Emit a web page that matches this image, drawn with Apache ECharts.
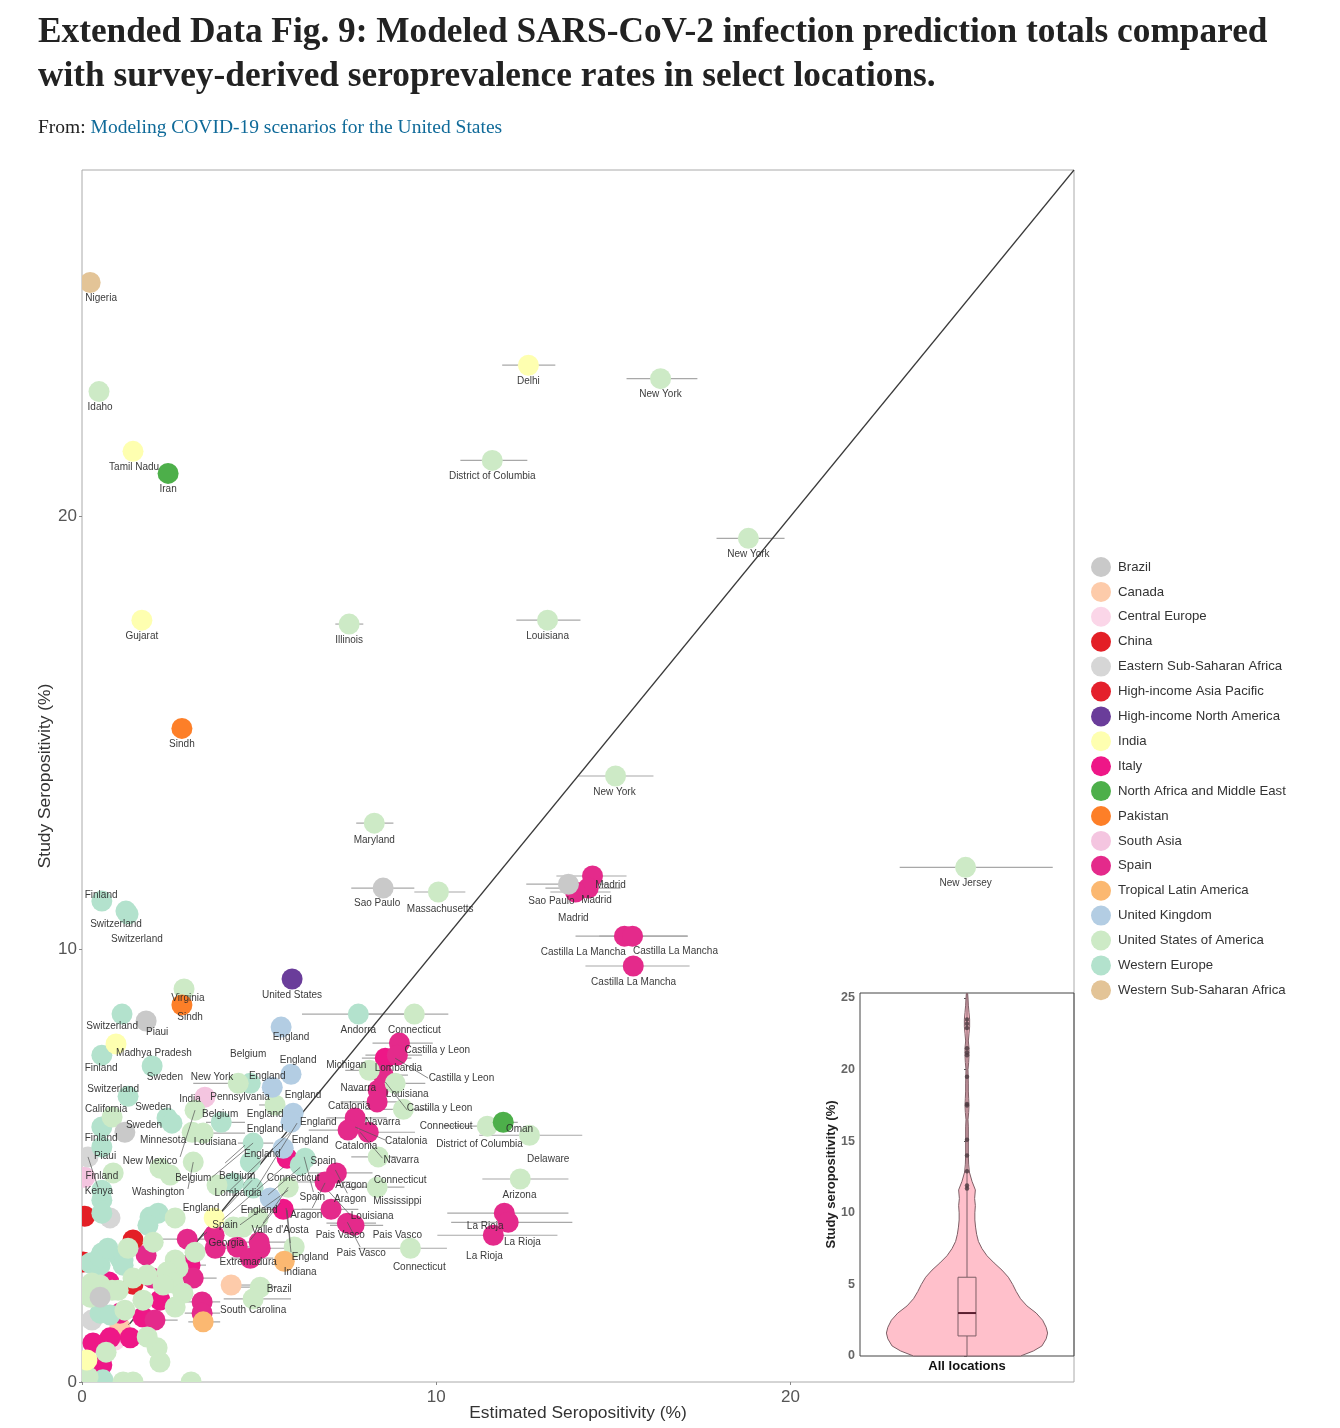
<!DOCTYPE html>
<html>
<head>
<meta charset="utf-8">
<title>Extended Data Fig. 9</title>
<script src="https://cdn.jsdelivr.net/npm/echarts@6/dist/echarts.min.js"></script>
<style>
	html, body { margin: 0; padding: 0; background: #fff; }
	#chart { width: 1340px; height: 1428px; }
</style>
</head>
<body>
<div id="chart"></div>
<script>
// rows are [estimated, study, estimated low, estimated high], in percent
var brazil = [[8.5,11.41,7.6,9.38],[13.73,11.5,12.54,14.86],[1.81,8.34],[1.21,5.77],[0.51,1.96]];
var canada = [[4.21,2.24,4.21,4.8],[1.07,1.27]];
var centralEurope = [[0.93,0.97]];
var china = [[0.08,3.83],[1.44,3.28],[0.03,2.77]];
var easternSubSaharan = [[0.17,5.2],[0.79,3.79],[0.28,1.43]];
var highIncomeAsiaPacific = [[1.44,2.26]];
var highIncomeNorthAmerica = [[5.93,9.31]];
var india = [[12.6,23.49,11.86,13.36],[1.44,21.5],[1.69,17.6],[0.96,7.81],[3.73,3.79],[0.14,0.51]];
var italy = [[8.56,7.48,7.9,9.3],[5.68,3.99,4.5,6.5],[5.79,5.17],[1.36,1.02],[0.79,1.02],[0.31,0.9],[0.56,0.39],[2.2,1.89],[1.72,1.5],[1.07,1.59],[0.76,2.31],[3.05,2.7,2.6,3.5]];
var northAfricaMiddleEast = [[2.43,20.99],[11.89,6.0,11.2,12.3]];
var pakistan = [[2.82,15.1],[2.82,8.71]];
var southAsia = [[3.47,6.58],[0.08,4.73]];
var spain = [[14.41,11.69,13.39,15.37],[14.29,11.41,13.08,15.2],[13.93,11.32,13.22,14.92],[15.31,10.3,13.93,17.09],[15.54,10.3,14.6,17.1],[15.56,9.61,14.21,17.15],[8.96,7.83,8.2,9.9],[8.9,7.55,8.0,9.6],[8.5,7.09,7.9,9.2],[8.36,6.74,7.6,9.0],[8.33,6.47,7.3,9.0],[7.71,6.1,6.9,8.6],[7.51,5.82,6.4,8.2],[8.08,5.77,7.4,9.4],[7.18,4.83,6.4,8.2],[6.86,4.62,6.0,7.6],[7.03,3.99,6.2,7.8],[7.49,3.67,6.9,8.3],[7.68,3.62,7.0,8.5],[11.92,3.9,10.31,13.73],[12.03,3.69,10.42,13.84],[11.61,3.39,10.03,13.42],[2.97,3.3,2.2,3.5],[3.76,3.09,3.2,4.4],[4.38,3.12,3.8,5.2],[4.75,2.86,4.2,5.4],[5.03,3.09,4.2,6.0],[5.0,3.23,4.3,5.8],[3.73,3.39],[1.81,2.93],[1.98,2.4],[3.14,2.4,2.7,3.8],[3.39,1.85,2.8,3.9],[3.39,1.59,2.9,3.9],[2.06,1.43,1.5,2.7]];
var tropicalLatinAmerica = [[5.71,2.79],[3.42,1.39,3.0,3.9]];
var unitedKingdom = [[5.62,8.2],[5.9,7.11],[5.37,6.81],[5.96,6.21],[5.9,6.0],[5.68,5.4],[5.31,4.25]];
var unitedStates = [[0.48,22.88],[16.33,23.18,15.37,17.37],[11.58,21.29,10.68,12.57],[18.81,19.49,17.91,19.83],[7.54,17.51,7.15,7.94],[13.14,17.6,12.26,14.07],[15.06,14.0,14.01,16.13],[8.25,12.91,7.74,8.79],[24.94,11.89,23.08,27.4],[10.06,11.32,9.38,10.82],[2.88,9.08],[9.38,8.5,8.0,10.34],[8.11,7.2,7.43,8.5],[8.84,6.9,8.7,9.69],[9.07,6.3,8.0,9.8],[4.41,6.9,3.14,4.8],[5.45,6.4,5.0,5.7],[3.19,6.28],[0.85,6.12],[3.11,5.77],[3.42,5.75,3.1,4.6],[3.14,5.08],[2.2,4.94],[2.49,4.78],[0.88,4.83],[3.81,4.55],[2.63,3.79],[5.82,4.5],[4.27,3.58],[4.55,3.58],[4.97,3.79],[8.36,5.2,7.6,8.9],[8.33,4.5,7.5,9.1],[9.27,3.09,7.8,10.3],[5.99,3.12],[11.44,5.91,10.2,12.0],[12.63,5.7,11.21,14.12],[12.37,4.69,11.3,13.73],[5.03,2.19,4.4,5.5],[4.83,1.92,4.0,5.9],[3.19,3.0],[1.3,3.09],[2.01,3.23],[2.63,2.82],[2.71,2.63],[2.4,2.54],[2.57,2.29],[2.85,2.05],[2.63,1.73],[2.29,2.24],[1.44,2.4],[1.84,2.47],[1.72,1.89],[0.51,2.24],[0.23,2.19],[0.85,2.12],[1.21,1.66],[2.12,0.79],[2.2,0.46],[1.84,1.04],[0.68,0.69],[0.17,0.12],[1.16,0],[1.44,0],[3.08,0],[0.28,2.29],[0.23,1.96],[1.02,2.12]];
var westernEurope = [[0.56,11.11],[1.24,10.88],[1.3,10.81],[1.13,8.5],[0.56,7.55],[1.98,7.3],[7.8,8.5,6.21,9.1],[4.75,6.9],[1.3,6.6],[2.4,6.1],[2.54,5.98],[0.56,5.89],[0.56,5.43],[3.93,6.0,3.5,4.6],[4.83,5.52,4.4,5.4],[4.75,5.08],[6.3,5.17],[6.16,5.01],[4.83,4.48],[4.27,4.6],[0.56,4.2],[0.56,3.9],[0.56,4.43],[2.15,3.9],[1.92,3.81],[1.86,3.62],[0.56,2.98],[0.23,2.75],[0.51,2.7],[1.16,2.82],[0.51,1.59],[0.79,1.55],[0.59,0.05],[1.07,2.86],[0.51,2.89],[0.73,3.09],[1.16,2.7]];
var westernSubSaharan = [[0.23,25.4]];

var regionNames = ["Brazil","Canada","Central Europe","China","Eastern Sub-Saharan Africa","High-income Asia Pacific","High-income North America","India","Italy","North Africa and Middle East","Pakistan","South Asia","Spain","Tropical Latin America","United Kingdom","United States of America","Western Europe","Western Sub-Saharan Africa"];

// text, then where it sits on the two axes
var repelLabels = [["Nigeria",0.54,25.05],["Idaho",0.51,22.54],["Delhi",12.6,23.14],["New York",16.33,22.84],["Tamil Nadu",1.47,21.15],["Iran",2.43,20.64],["District of Columbia",11.58,20.94],["New York",18.81,19.14],["Gujarat",1.69,17.26],["Illinois",7.54,17.16],["Louisiana",13.14,17.26],["Sindh",2.82,14.76],["New York",15.03,13.65],["Maryland",8.25,12.54],["New Jersey",24.94,11.54],["Finland",0.54,11.27],["Switzerland",0.96,10.6],["Switzerland",1.55,10.25],["Sao Paulo",8.33,11.08],["Massachusetts",10.11,10.94],["Sao Paulo",13.25,11.13],["Madrid",14.92,11.5],["Madrid",14.52,11.15],["Madrid",13.87,10.74],["Castilla La Mancha",14.15,9.95],["Castilla La Mancha",16.75,9.97],["Castilla La Mancha",15.57,9.26],["Virginia",2.99,8.89],["United States",5.93,8.96],["Sindh",3.05,8.45],["Switzerland",0.85,8.24],["Piaui",2.12,8.1],["England",5.9,7.99],["Andorra",7.8,8.15],["Connecticut",9.38,8.15],["Castilla y Leon",10.03,7.69],["Madhya Pradesh",2.03,7.62],["Belgium",4.69,7.6],["England",6.1,7.46],["Michigan",7.46,7.34],["Lombardia",8.93,7.27],["Finland",0.54,7.27],["Sweden",2.34,7.07],["New York",3.67,7.07],["England",5.23,7.09],["Castilla y Leon",10.71,7.04],["Navarra",7.8,6.81],["Switzerland",0.88,6.79],["Louisiana",9.18,6.67],["England",6.24,6.65],["Pennsylvania",4.46,6.6],["India",3.05,6.56],["Catalonia",7.54,6.4],["Sweden",2.01,6.37],["California",0.68,6.33],["Castilla y Leon",10.09,6.35],["Belgium",3.9,6.21],["England",5.17,6.21],["England",6.67,6.03],["Navarra",8.48,6.03],["Sweden",1.75,5.96],["Connecticut",10.28,5.93],["England",5.17,5.86],["Oman",12.35,5.86],["Finland",0.54,5.66],["Minnesota",2.29,5.61],["England",6.44,5.61],["Catalonia",9.15,5.59],["Louisiana",3.76,5.56],["District of Columbia",11.22,5.52],["Catalonia",7.74,5.47],["England",5.09,5.29],["Piaui",0.65,5.24],["Delaware",13.16,5.17],["Navarra",9.01,5.15],["New Mexico",1.92,5.13],["Spain",6.81,5.13],["Finland",0.56,4.78],["Belgium",3.14,4.73],["Belgium",4.38,4.78],["Connecticut",5.96,4.73],["Connecticut",8.98,4.69],["Aragon",7.6,4.57],["Kenya",0.48,4.43],["Washington",2.15,4.41],["Lombardia",4.41,4.39],["Arizona",12.35,4.34],["Spain",6.5,4.29],["Aragon",7.57,4.25],["Mississippi",8.9,4.2],["England",3.36,4.04],["England",5.0,3.99],["Aragon",6.33,3.88],["Louisiana",8.19,3.86],["Spain",4.04,3.65],["La Rioja",11.38,3.63],["Valle d'Aosta",5.59,3.53],["Pais Vasco",7.29,3.42],["Pais Vasco",8.9,3.42],["La Rioja",12.43,3.26],["Georgia",4.07,3.23],["Pais Vasco",7.88,3.0],["La Rioja",11.36,2.93],["England",6.44,2.91],["Extremadura",4.69,2.79],["Connecticut",9.52,2.68],["Indiana",6.16,2.56],["Brazil",5.57,2.17],["South Carolina",4.83,1.69]];
var repelLinks = [[3.19,6.28,2.77,5.2],[3.14,5.08,2.99,4.46],[4.83,5.52,3.67,4.73],[5.88,5.77,4.18,4.43],[6.07,5.98,4.94,4.5],[0.17,5.2,0.45,4.5],[4.8,4.66,3.96,3.93],[5.82,4.43,4.46,3.63],[5.59,4.13,4.75,3.28],[3.53,3.46,3.28,3.28],[1.44,1.43,1.3,1.32],[5.79,3.97,5.88,3.21],[4.6,5.47,4.04,5.06],[5.68,4.96,3.96,3.74],[6.16,4.96,5.25,4.32],[5.82,4.5,5.11,3.67],[6.27,5.2,6.53,4.39],[6.86,4.6,6.5,4.02],[7.15,4.9,7.49,4.36],[6.98,4.39,7.57,3.86],[7.49,3.69,7.85,3.12],[5.76,4.02,5.9,3.0],[8.84,7.48,9.77,7.02],[8.56,6.93,9.18,6.28],[7.71,5.89,8.56,5.59],[7.85,5.77,8.48,5.17]];

var identityLine = [[0,0],[28,28]];

// inset: violin half width against study seropositivity
var violinY = [0,0.35,0.7,1.2,1.6,2,2.5,3,3.5,4,4.5,5,5.5,6,6.5,7,7.5,8,8.5,9,9.5,10,10.5,11,11.6,12.2,12.85,13.4,14,15,16,16.5,17,17.5,18,18.5,19,20,20.5,21,21.5,22,22.5,23,23.5,24,24.5,25,25.3];
var violinWidth = [0.75,0.93,1.05,1.11,1.13,1.11,1.06,0.97,0.84,0.75,0.69,0.64,0.58,0.49,0.38,0.28,0.21,0.16,0.135,0.12,0.11,0.11,0.117,0.107,0.117,0.07,0.033,0.023,0.019,0.019,0.019,0.014,0.023,0.028,0.023,0.019,0.019,0.014,0.023,0.028,0.028,0.019,0.028,0.037,0.037,0.028,0.019,0.014,0.009];
var boxStats = { low: 0, q1: 1.4, median: 3, q3: 5.5, high: 11.6, top: 25.35 };
var outliers = [11.7,11.9,12.9,14,15.1,17.5,17.6,19.5,21,21.2,21.5,22.9,23.2,23.5];

var colors = {
	"Brazil": "#c9c9c9", "Canada": "#fdcbaa", "Central Europe": "#fbd6e8", "China": "#e31f26",
	"Eastern Sub-Saharan Africa": "#d6d6d6", "High-income Asia Pacific": "#e4202c",
	"High-income North America": "#6a3d9a", "India": "#feffb0", "Italy": "#ee1787",
	"North Africa and Middle East": "#4daf4a", "Pakistan": "#fd7f28", "South Asia": "#f4c5e0",
	"Spain": "#e42a8b", "Tropical Latin America": "#fbb871", "United Kingdom": "#b3cde3",
	"United States of America": "#cdeac6", "Western Europe": "#b3e2cd", "Western Sub-Saharan Africa": "#e3c497"
};
var sans = "'Liberation Sans', Arial, sans-serif";
var serif = "'Liberation Serif', serif";

var regions = [
	["Central Europe", centralEurope], ["South Asia", southAsia], ["Canada", canada],
	["China", china], ["High-income Asia Pacific", highIncomeAsiaPacific],
	["Eastern Sub-Saharan Africa", easternSubSaharan],
	["Italy", italy], ["Spain", spain], ["Western Europe", westernEurope],
	["United States of America", unitedStates], ["Brazil", brazil], ["United Kingdom", unitedKingdom],
	["High-income North America", highIncomeNorthAmerica], ["India", india],
	["North Africa and Middle East", northAfricaMiddleEast], ["Pakistan", pakistan],
	["Tropical Latin America", tropicalLatinAmerica], ["Western Sub-Saharan Africa", westernSubSaharan]
];

// error bars are drawn under every point
var errorBars = [];
regions.forEach(function(r) {
	r[1].forEach(function(p) {
		if(p.length > 2) errorBars.push([p[2], p[3], p[1]]);
	});
});

function renderPoint(params, api) {
	var c = api.coord([api.value(0), api.value(1)]);
	return { type: "circle", shape: { cx: c[0], cy: c[1], r: 10.5 }, style: { fill: api.visual("color") } };
}

function renderBar(params, api) {
	var a = api.coord([api.value(0), api.value(2)]);
	var b = api.coord([api.value(1), api.value(2)]);
	return { type: "line", shape: { x1: a[0], y1: a[1], x2: b[0], y2: b[1] }, style: { stroke: "#a8a8a8", lineWidth: 1.2 } };
}

function renderLink(params, api) {
	var a = api.coord([api.value(0), api.value(1)]);
	var b = api.coord([api.value(2), api.value(3)]);
	return { type: "line", shape: { x1: a[0], y1: a[1], x2: b[0], y2: b[1] }, style: { stroke: "#555", lineWidth: 0.7 } };
}

function renderLabel(params, api) {
	var row = repelLabels[params.dataIndex];
	var c = api.coord([row[1], row[2]]);
	return { type: "text", x: c[0], y: c[1] + 1, style: { text: row[0], textAlign: "center", textVerticalAlign: "middle", font: "10px " + sans, fill: "#2a2a2a", opacity: 0.92 } };
}

function renderViolin(params, api) {
	var points = [];
	violinY.forEach(function(y, i) { points.push(api.coord([violinWidth[i], y])); });
	for(var i = violinY.length - 1; i >= 0; i--) points.push(api.coord([-violinWidth[i], violinY[i]]));
	return { type: "polygon", shape: { points: points }, style: { fill: "#ffc0cb", stroke: "#7d5f66", lineWidth: 1 } };
}

function renderBox(params, api) {
	var w = 0.126;
	var tl = api.coord([-w, boxStats.q3]);
	var br = api.coord([w, boxStats.q1]);
	var ml = api.coord([-w, boxStats.median]);
	var mr = api.coord([w, boxStats.median]);
	var w0 = api.coord([0, boxStats.low]);
	var w1 = api.coord([0, boxStats.q1]);
	var w2 = api.coord([0, boxStats.q3]);
	var w3 = api.coord([0, boxStats.high]);
	var w4 = api.coord([0, boxStats.top]);
	var thin = { stroke: "#7d5f66", lineWidth: 1 };
	return { type: "group", children: [
		{ type: "line", shape: { x1: w0[0], y1: w0[1], x2: w1[0], y2: w1[1] }, style: thin },
		{ type: "line", shape: { x1: w2[0], y1: w2[1], x2: w3[0], y2: w3[1] }, style: thin },
		{ type: "line", shape: { x1: w3[0], y1: w3[1], x2: w4[0], y2: w4[1] }, style: thin },
		{ type: "rect", shape: { x: tl[0], y: tl[1], width: br[0] - tl[0], height: br[1] - tl[1] }, style: { fill: "#ffc0cb", stroke: "#7d5f66", lineWidth: 1 } },
		{ type: "line", shape: { x1: ml[0], y1: ml[1], x2: mr[0], y2: mr[1] }, style: { stroke: "#5a1f30", lineWidth: 2 } }
	] };
}

var series = [
	{ type: "custom", name: "bars", silent: true, z: 1, xAxisIndex: 0, yAxisIndex: 0, renderItem: renderBar, data: errorBars, encode: { x: [0, 1], y: 2 } },
	{ type: "line", name: "identity", silent: true, z: 1, xAxisIndex: 0, yAxisIndex: 0, data: identityLine, symbol: "none", lineStyle: { color: "#3a3a3a", width: 1.2 } }
];
regions.forEach(function(r) {
	series.push({
		type: "custom", name: r[0], clip: true, z: 2, xAxisIndex: 0, yAxisIndex: 0,
		itemStyle: { color: colors[r[0]] }, renderItem: renderPoint,
		data: r[1].map(function(p) { return [p[0], p[1]]; }), encode: { x: 0, y: 1 }
	});
});
series.push(
	{ type: "custom", name: "links", silent: true, z: 3, xAxisIndex: 0, yAxisIndex: 0, renderItem: renderLink, data: repelLinks, encode: { x: [0, 2], y: [1, 3] } },
	{ type: "custom", name: "labels", silent: true, z: 3, xAxisIndex: 0, yAxisIndex: 0, renderItem: renderLabel,
		data: repelLabels.map(function(l) { return [l[1], l[2]]; }), encode: { x: 0, y: 1 } },
	{ type: "custom", name: "violin", silent: true, z: 4, xAxisIndex: 1, yAxisIndex: 1, renderItem: renderViolin, data: [[0, 0]], encode: { x: 0, y: 1 } },
	{ type: "custom", name: "box", silent: true, z: 4, xAxisIndex: 1, yAxisIndex: 1, renderItem: renderBox, data: [[0, boxStats.median]], encode: { x: 0, y: 1 } },
	{ type: "scatter", name: "outliers", silent: true, z: 5, xAxisIndex: 1, yAxisIndex: 1, symbolSize: 4.5, itemStyle: { color: "#4b3a40" },
		data: outliers.map(function(v) { return [0, v]; }) }
);

var chart = echarts.init(document.getElementById("chart"), null, { renderer: "canvas" });
chart.setOption({
	animation: false,
	backgroundColor: "#fff",
	title: [
		{ text: "Extended Data Fig. 9: Modeled SARS-CoV-2 infection prediction totals compared", left: 38, top: 15, padding: 0, textStyle: { fontFamily: serif, fontWeight: "bold", fontSize: 35.3, color: "#222" } },
		{ text: "with survey-derived seroprevalence rates in select locations.", left: 38, top: 59, padding: 0, textStyle: { fontFamily: serif, fontWeight: "bold", fontSize: 35.3, color: "#222" } },
		{ text: "{a|From: }{b|Modeling COVID-19 scenarios for the United States}", left: 38, top: 118, padding: 0,
			textStyle: { rich: { a: { fontFamily: serif, fontWeight: "normal", fontSize: 19.5, color: "#222" }, b: { fontFamily: serif, fontWeight: "normal", fontSize: 19.5, color: "#0f6a99" } } } }
	],
	legend: {
		data: regionNames, orient: "vertical", left: 1091, top: 557, padding: 0, icon: "circle",
		itemWidth: 20, itemHeight: 20, itemGap: 4.9, selectedMode: false,
		textStyle: { fontFamily: sans, fontSize: 13.2, color: "#333", padding: [0, 0, 0, 2] }
	},
	grid: [
		{ left: 82, top: 170, width: 992, height: 1212, outerBoundsMode: "none", show: true, borderColor: "#aaa", borderWidth: 1, backgroundColor: "#fff" },
		{ left: 860, top: 993, width: 214, height: 363, outerBoundsMode: "none", show: true, borderColor: "#444", borderWidth: 1, backgroundColor: "rgba(255,255,255,0)", z: 3 }
	],
	xAxis: [
		{ type: "value", gridIndex: 0, min: 0, max: 28, interval: 10, splitLine: { show: false }, axisLine: { show: false },
			axisTick: { length: 3, lineStyle: { color: "#888" } },
			axisLabel: { showMaxLabel: false, fontFamily: sans, fontSize: 17, color: "#555", margin: 7 },
			name: "Estimated Seropositivity (%)", nameLocation: "middle", nameGap: 23, nameMoveOverlap: false, nameTextStyle: { fontFamily: sans, fontSize: 17.4, color: "#333" } },
		{ type: "value", gridIndex: 1, min: -1.5, max: 1.5, interval: 0.5, splitLine: { show: false }, axisTick: { show: false },
			axisLine: { show: false },
			axisLabel: { fontFamily: sans, fontSize: 13, fontWeight: "bold", color: "#111", margin: 4, hideOverlap: false,
				formatter: function(v) { return v === 0 ? "All locations" : ""; } } }
	],
	yAxis: [
		{ type: "value", gridIndex: 0, min: 0, max: 28, interval: 10, splitLine: { show: false }, axisLine: { show: false },
			axisTick: { length: 3, lineStyle: { color: "#888" } },
			axisLabel: { showMaxLabel: false, fontFamily: sans, fontSize: 17, color: "#555", margin: 5 },
			name: "Study Seropositivity (%)", nameLocation: "middle", nameGap: 28, nameMoveOverlap: false, nameTextStyle: { fontFamily: sans, fontSize: 17.4, color: "#333" } },
		{ type: "value", gridIndex: 1, min: 0, max: 25.35, interval: 5, splitLine: { show: false }, axisLine: { show: false },
			axisTick: { length: 3, lineStyle: { color: "#555" } },
			axisLabel: { showMaxLabel: false, fontFamily: sans, fontSize: 12.5, fontWeight: "bold", color: "#666", margin: 5, padding: [2, 0, 0, 0] },
			name: "Study seropositivity (%)", nameLocation: "middle", nameGap: 22, nameMoveOverlap: false, nameTextStyle: { fontFamily: sans, fontSize: 13, fontWeight: "bold", color: "#222" } }
	],
	series: series
});
</script>
</body>
</html>
